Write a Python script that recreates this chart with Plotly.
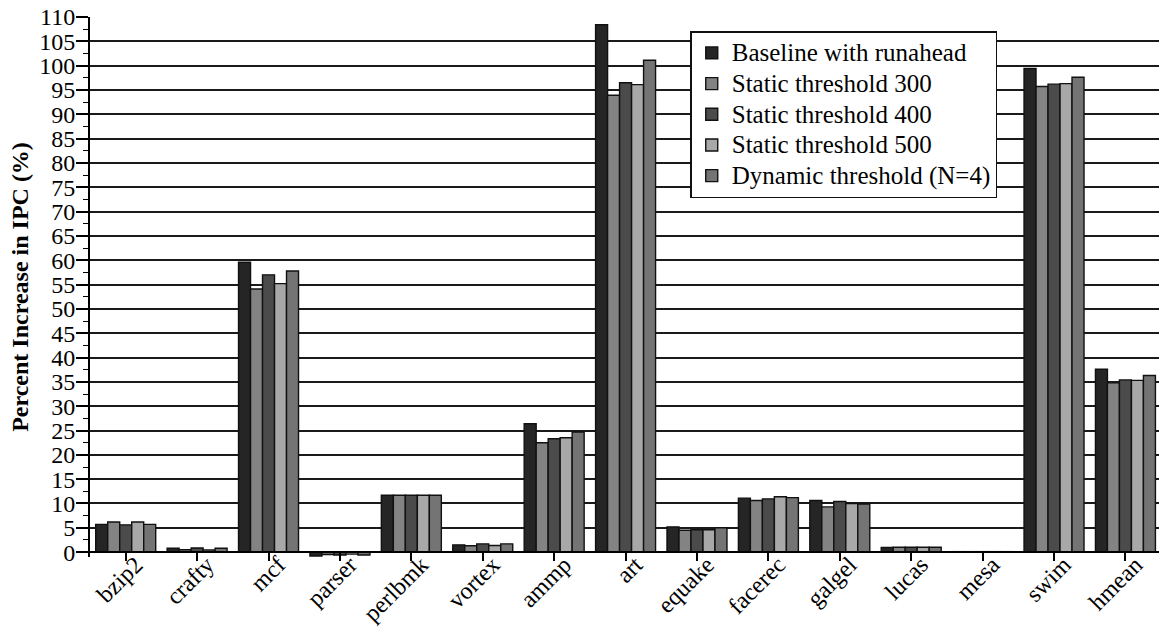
import plotly.graph_objects as go

# Benchmarks (SPEC CPU2000) plus harmonic mean
benchmarks = ["bzip2", "crafty", "mcf", "parser", "perlbmk", "vortex", "ammp",
              "art", "equake", "facerec", "galgel", "lucas", "mesa", "swim", "hmean"]

# Percent increase in IPC for each configuration
baseline_runahead = [5.7, 0.8, 59.6, -0.8, 11.7, 1.5, 26.4, 108.4, 5.2, 11.1, 10.6, 0.95, 0.1, 99.4, 37.6]
static_300 =        [6.2, 0.5, 54.1, -0.5, 11.7, 1.3, 22.5, 93.9, 4.5, 10.6, 9.3, 1.0, 0.1, 95.7, 34.8]
static_400 =        [5.6, 0.85, 57.0, -0.6, 11.7, 1.7, 23.3, 96.5, 4.6, 10.95, 10.4, 1.0, 0.1, 96.2, 35.4]
static_500 =        [6.2, 0.45, 55.2, -0.4, 11.7, 1.35, 23.5, 96.1, 4.6, 11.4, 10.0, 1.0, 0.1, 96.3, 35.3]
dynamic_n4 =        [5.7, 0.8, 57.8, -0.6, 11.7, 1.7, 24.7, 101.1, 5.0, 11.2, 9.9, 1.0, 0.1, 97.6, 36.3]

series = [
    ("Baseline with runahead", baseline_runahead, "#252525"),
    ("Static threshold 300", static_300, "#838383"),
    ("Static threshold 400", static_400, "#4b4b4b"),
    ("Static threshold 500", static_500, "#a8a8a8"),
    ("Dynamic threshold (N=4)", dynamic_n4, "#747474"),
]

FONT = "Liberation Serif, Times New Roman, serif"
Y_MIN, Y_MAX = -1, 110

fig = go.Figure()
for name, values, color in series:
    fig.add_trace(go.Bar(
        name='<span style="font-size:25px">%s</span>' % name,
        x=benchmarks, y=values,
        marker=dict(color=color, line=dict(color="#111111", width=1.4)),
    ))

fig.update_layout(
    width=1159, height=627,
    margin=dict(l=90, r=0, t=17, b=70),
    paper_bgcolor="white", plot_bgcolor="white",
    barmode="group", bargap=0.16, bargroupgap=0,
    font=dict(family=FONT, color="black", size=22),
    showlegend=True,
    legend=dict(
        x=0.5615, y=0.974, xanchor="left", yanchor="top",
        bgcolor="white", bordercolor="#111111", borderwidth=1.5,
        font=dict(family=FONT, size=21.3, color="black"),
        tracegroupgap=0, itemwidth=30,
    ),
)

# category axis sits on the zero line so slightly negative bars hang below it
fig.update_xaxes(
    range=[-0.5, 14.47], automargin=False,
    anchor="free", position=(0 - Y_MIN) / (Y_MAX - Y_MIN),
    showline=True, linecolor="black", linewidth=2,
    ticks="outside", ticklen=8, tickwidth=1.5, tickcolor="black",
    tickangle=-45, ticklabelshift=10, ticklabelstandoff=-20,
    tickfont=dict(family=FONT, size=24, color="black"),
    showgrid=False, zeroline=False,
)

fig.update_yaxes(
    range=[Y_MIN, Y_MAX], automargin=False,
    tickmode="linear", dtick=5, tick0=0,
    showline=True, linecolor="black", linewidth=2,
    ticks="outside", ticklen=12, tickwidth=1.5, tickcolor="black",
    minor=dict(dtick=2.5, tick0=0, ticks="outside", ticklen=5, tickwidth=1.2,
               tickcolor="black", showgrid=False),
    tickfont=dict(family=FONT, size=24, color="black"),
    ticklabelstandoff=-4,
    showgrid=True, gridcolor="#1a1a1a", gridwidth=1.6,
    zeroline=False,
    title=dict(text="<b>Percent Increase in IPC (%)</b>",
               font=dict(family=FONT, size=24, color="black"), standoff=4),
)

fig.write_html("out.html")
